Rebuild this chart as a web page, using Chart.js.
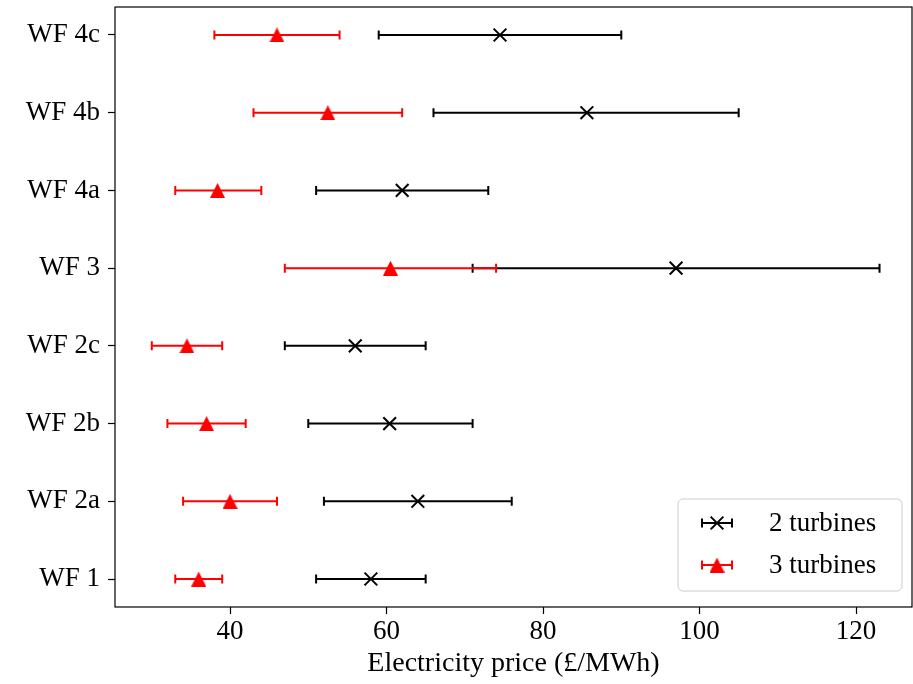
<!DOCTYPE html>
<html>
<head>
<meta charset="utf-8">
<script src="https://cdn.jsdelivr.net/npm/chart.js@4.4.1/dist/chart.umd.min.js"></script>
<style>
html, body { margin: 0; padding: 0; background: #fff; }
</style>
</head>
<body>
<canvas id="chart" width="913" height="684"></canvas>
<script>
// Wind farms, bottom to top
const farms = ["WF 1", "WF 2a", "WF 2b", "WF 2c", "WF 3", "WF 4a", "WF 4b", "WF 4c"];

// 2 turbines: mean price and error range
const twoMean = [58, 64, 60.4, 56, 97, 62, 85.6, 74.5];
const twoLow  = [51, 52, 50, 47, 71, 51, 66, 59];
const twoHigh = [65, 76, 71, 65, 123, 73, 105, 90];

// 3 turbines
const threeMean = [36, 40, 37, 34.5, 60.5, 38.4, 52.5, 46];
const threeLow  = [33, 34, 32, 30, 47, 33, 43, 38];
const threeHigh = [39, 46, 42, 39, 74, 44, 62, 54];

const xTicks = [40, 60, 80, 100, 120];

const FONT = "'Liberation Serif', 'DejaVu Serif', serif";
Chart.defaults.font.family = FONT;
Chart.defaults.font.size = 27;
Chart.defaults.color = "#000";

// matplotlib-like "^" marker (as wide as it is tall)
function makeTriangle(size, color) {
    const c = document.createElement("canvas");
    c.width = size;
    c.height = size;
    const g = c.getContext("2d");
    g.fillStyle = color;
    g.beginPath();
    g.moveTo(size / 2, 0);
    g.lineTo(size, size);
    g.lineTo(0, size);
    g.closePath();
    g.fill();
    return c;
}
const triangle = makeTriangle(15, "#ff0000");

function toPoints(values) {
    return values.map((v, i) => ({ x: v, y: i }));
}

const CAP = 4.5;

function drawBar(ctx, x0, x1, y, color) {
    ctx.strokeStyle = color;
    ctx.lineWidth = 2;
    ctx.beginPath();
    ctx.moveTo(x0, y);
    ctx.lineTo(x1, y);
    ctx.moveTo(x0, y - CAP);
    ctx.lineTo(x0, y + CAP);
    ctx.moveTo(x1, y - CAP);
    ctx.lineTo(x1, y + CAP);
    ctx.stroke();
}

// horizontal error bars, drawn under the markers
const errorBars = {
    id: "errorBars",
    beforeDatasetsDraw(chart) {
        const { ctx, scales: { x, y } } = chart;
        ctx.save();
        chart.data.datasets.forEach(ds => {
            ds.lows.forEach((lo, i) => {
                drawBar(ctx, x.getPixelForValue(lo), x.getPixelForValue(ds.highs[i]),
                    y.getPixelForValue(i), ds.barColor);
            });
        });
        ctx.restore();
    }
};

// axes frame + legend in the lower right corner
const frameAndLegend = {
    id: "frameAndLegend",
    afterDraw(chart) {
        const { ctx, chartArea: a } = chart;
        ctx.save();
        ctx.strokeStyle = "#000";
        ctx.lineWidth = 1.2;
        ctx.strokeRect(a.left, a.top, a.right - a.left, a.bottom - a.top);

        const w = 224, h = 92;
        const bx = a.right - 10 - w, by = a.bottom - 16 - h, r = 5;
        ctx.beginPath();
        ctx.moveTo(bx + r, by);
        ctx.lineTo(bx + w - r, by);
        ctx.arcTo(bx + w, by, bx + w, by + r, r);
        ctx.lineTo(bx + w, by + h - r);
        ctx.arcTo(bx + w, by + h, bx + w - r, by + h, r);
        ctx.lineTo(bx + r, by + h);
        ctx.arcTo(bx, by + h, bx, by + h - r, r);
        ctx.lineTo(bx, by + r);
        ctx.arcTo(bx, by, bx + r, by, r);
        ctx.closePath();
        ctx.fillStyle = "rgba(255,255,255,0.8)";
        ctx.fill();
        ctx.strokeStyle = "#cccccc";
        ctx.lineWidth = 1;
        ctx.stroke();

        ctx.font = "27px " + FONT;
        ctx.textBaseline = "middle";
        ctx.textAlign = "left";
        chart.data.datasets.forEach((ds, k) => {
            const cy = by + 24 + k * 42;
            const cx = bx + 39;
            drawBar(ctx, cx - 15, cx + 15, cy, ds.barColor);
            if (ds.pointStyle === "crossRot") {
                ctx.lineWidth = 2;
                ctx.strokeStyle = "#000";
                Chart.helpers.drawPoint(ctx, { pointStyle: "crossRot", radius: 9, borderWidth: 2, rotation: 0 }, cx, cy);
            } else {
                ctx.drawImage(triangle, cx - 7.5, cy - 7.5);
            }
            ctx.fillStyle = "#000";
            ctx.fillText(ds.label, bx + 91, cy + 1);
        });
        ctx.restore();
    }
};

new Chart("chart", {
    type: "scatter",
    data: {
        datasets: [
            {
                label: "2 turbines",
                data: toPoints(twoMean),
                lows: twoLow,
                highs: twoHigh,
                barColor: "#000",
                pointStyle: "crossRot",
                pointRadius: 9,
                pointHoverRadius: 9,
                pointBorderWidth: 2,
                borderColor: "#000",
                backgroundColor: "#000"
            },
            {
                label: "3 turbines",
                data: toPoints(threeMean),
                lows: threeLow,
                highs: threeHigh,
                barColor: "#ff0000",
                pointStyle: triangle,
                pointRadius: 8,
                borderColor: "#ff0000",
                backgroundColor: "#ff0000"
            }
        ]
    },
    options: {
        responsive: false,
        animation: false,
        devicePixelRatio: 1,
        layout: { autoPadding: false, padding: { top: 7, right: 1, left: 0, bottom: 0 } },
        plugins: {
            legend: { display: false },
            tooltip: { enabled: false }
        },
        scales: {
            x: {
                type: "linear",
                min: 25.3,
                max: 127.15,
                afterBuildTicks: s => { s.ticks = xTicks.map(v => ({ value: v })); },
                afterFit: s => { s.height = 77; s.paddingLeft = 0; s.paddingRight = 0; },
                ticks: { padding: 2, maxRotation: 0, color: "#000" },
                grid: { drawOnChartArea: false, tickLength: 7, tickWidth: 1.2, tickColor: "#000" },
                border: { display: false },
                title: {
                    display: true,
                    text: "Electricity price (£/MWh)",
                    color: "#000",
                    font: { size: 28 },
                    padding: { top: 0, bottom: 4 }
                }
            },
            y: {
                type: "linear",
                min: -0.36,
                max: 7.36,
                afterBuildTicks: s => { s.ticks = farms.map((f, i) => ({ value: i })); },
                afterFit: s => { s.width = 115; s.paddingTop = 0; s.paddingBottom = 0; },
                ticks: {
                    padding: 8,
                    color: "#000",
                    callback: v => farms[v]
                },
                grid: { drawOnChartArea: false, tickLength: 7, tickWidth: 1.2, tickColor: "#000" },
                border: { display: false }
            }
        }
    },
    plugins: [errorBars, frameAndLegend]
});
</script>
</body>
</html>
